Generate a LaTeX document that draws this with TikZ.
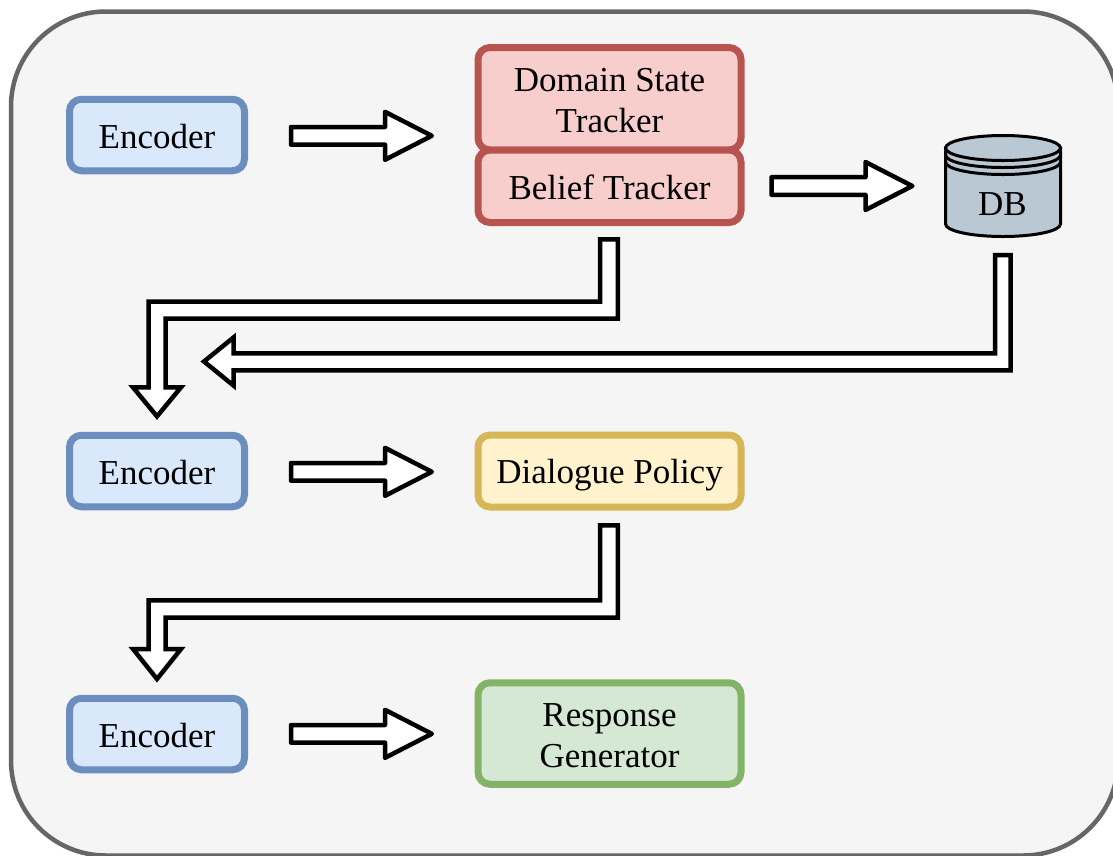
\documentclass[tikz,border=0pt]{standalone}
\usepackage{fontspec}
\setmainfont{Liberation Serif}
\usetikzlibrary{calc}
\definecolor{bgfill}{HTML}{F5F5F5}
\definecolor{bgline}{HTML}{666666}
\definecolor{bluefill}{HTML}{DAE8FC}
\definecolor{blueline}{HTML}{6C8EBF}
\definecolor{redfill}{HTML}{F8CECC}
\definecolor{redline}{HTML}{B85450}
\definecolor{yellowfill}{HTML}{FFF2CC}
\definecolor{yellowline}{HTML}{D6B656}
\definecolor{greenfill}{HTML}{D5E8D4}
\definecolor{greenline}{HTML}{82B366}
\definecolor{dbfill}{HTML}{BAC8D3}
\tikzset{
  boxbase/.style={draw,line width=7pt,rounded corners=12pt,anchor=center,inner sep=0pt,
    align=center,font=\fontsize{35}{41}\selectfont,text=black},
  encbox/.style={boxbase,fill=bluefill,draw=blueline,minimum width=175pt,minimum height=71.5pt},
  redbox/.style={boxbase,fill=redfill,draw=redline,minimum width=263pt},
  yellowbox/.style={boxbase,fill=yellowfill,draw=yellowline,minimum width=263pt,minimum height=72pt},
  greenbox/.style={boxbase,fill=greenfill,draw=greenline,minimum width=263pt,minimum height=101.5pt},
  hollowshort/.style={draw=black,fill=white,line width=4.5pt,line join=round},
  hollowlong/.style={draw=black,fill=white,line width=4.5pt,line join=miter,miter limit=10},
  dbshape/.style={draw=black,line width=3pt},
}
\newcommand{\lowered}[2][2pt]{\raisebox{-#1}[\height][\depth]{#2}}
\newcommand{\straightarrow}[1]{%
  \draw[hollowshort] (#1) ++(0,-8.8) -- ++(94,0) -- ++(0,-15.2) -- ++(46.8,24) -- ++(-46.8,24)
    -- ++(0,-15.2) -- ++(-94,0) -- cycle;}
\begin{document}
\begin{tikzpicture}[x=1pt,y=-1pt]
\useasboundingbox (0,0) rectangle (1113,855);
\clip (0,0) rectangle (1113,855);
\fill[white] (0,0) rectangle (1113,855);
\draw[fill=bgfill,draw=bgline,line width=4.5pt,rounded corners=95pt] (11,11.5) rectangle (1118,855.5);

\node[encbox] (enc1) at (157,135) {\lowered{Encoder}};
\node[encbox] (enc2) at (157,471) {\lowered{Encoder}};
\node[encbox] (enc3) at (157,734) {\lowered{Encoder}};
\node[redbox,minimum height=102.5pt] (dst) at (609.5,98.75) {\lowered{Domain State}\\\lowered{Tracker}};
\node[redbox,minimum height=72.5pt] (belief) at (609.5,186.25) {\lowered[1pt]{Belief Tracker}};
\node[yellowbox] (policy) at (609.5,471) {\lowered[4.5pt]{Dialogue Policy}};
\node[greenbox] (resp) at (609.5,733.5) {\lowered{Response}\\\lowered{Generator}};

\path[fill=dbfill,dbshape]
  (945.5,148) -- (945.5,224) arc[start angle=180,end angle=360,x radius=57.5pt,y radius=12.5pt]
  -- (1060.5,148) -- cycle;
\draw[fill=dbfill,dbshape] (1003,148) ellipse[x radius=57.5pt,y radius=12.5pt];
\draw[dbshape] (945.5,155) arc[start angle=180,end angle=360,x radius=57.5pt,y radius=12.5pt];
\draw[dbshape] (945.5,162) arc[start angle=180,end angle=360,x radius=57.5pt,y radius=12.5pt];
\node[inner sep=0pt,font=\fontsize{35}{41}\selectfont] (db) at (1002.5,204) {DB};

\coordinate (a1s) at ($(enc1.east)+(43,0.8)$);
\coordinate (a2s) at ($(belief.east)+(27,-0.25)$);
\coordinate (a5s) at ($(enc2.east)+(43,0.8)$);
\coordinate (a7s) at ($(enc3.east)+(43,-0.2)$);
\straightarrow{a1s}
\straightarrow{a2s}
\straightarrow{a5s}
\straightarrow{a7s}

\coordinate (a3s) at ($(belief.south)+(-0.5,13.3)$);
\coordinate (a6s) at ($(policy.south)+(-0.5,14.8)$);
\coordinate (a4s) at (db.south |- 0,255);

% Belief Tracker to second Encoder
\draw[hollowlong] (a3s) ++(-8.8,0) -- ++(17.6,0) -- ++(0,79.2) -- ++(-452.3,0) -- ++(0,68.8)
   -- ++(15.5,0) -- ++(-24,29.1) -- ++(-24,-29.1) -- ++(15.5,0) -- ++(0,-85.7) -- ++(451.7,0) -- cycle;
% DB to second Encoder
\draw[hollowlong] (a4s) ++(-7.5,0) -- ++(15.5,0) -- ++(0,115.3) -- ++(-777,0) -- ++(0,15.2)
   -- ++(-29.5,-24) -- ++(29.5,-24) -- ++(0,15.8) -- ++(761.5,0) -- cycle;
% Dialogue Policy to third Encoder
\draw[hollowlong] (a6s) ++(-8.8,0) -- ++(17.6,0) -- ++(0,92.4) -- ++(-452.3,0) -- ++(0,31.3)
   -- ++(15.5,0) -- ++(-24,30) -- ++(-24,-30) -- ++(15.5,0) -- ++(0,-48.7) -- ++(451.7,0) -- cycle;
\end{tikzpicture}
\end{document}
